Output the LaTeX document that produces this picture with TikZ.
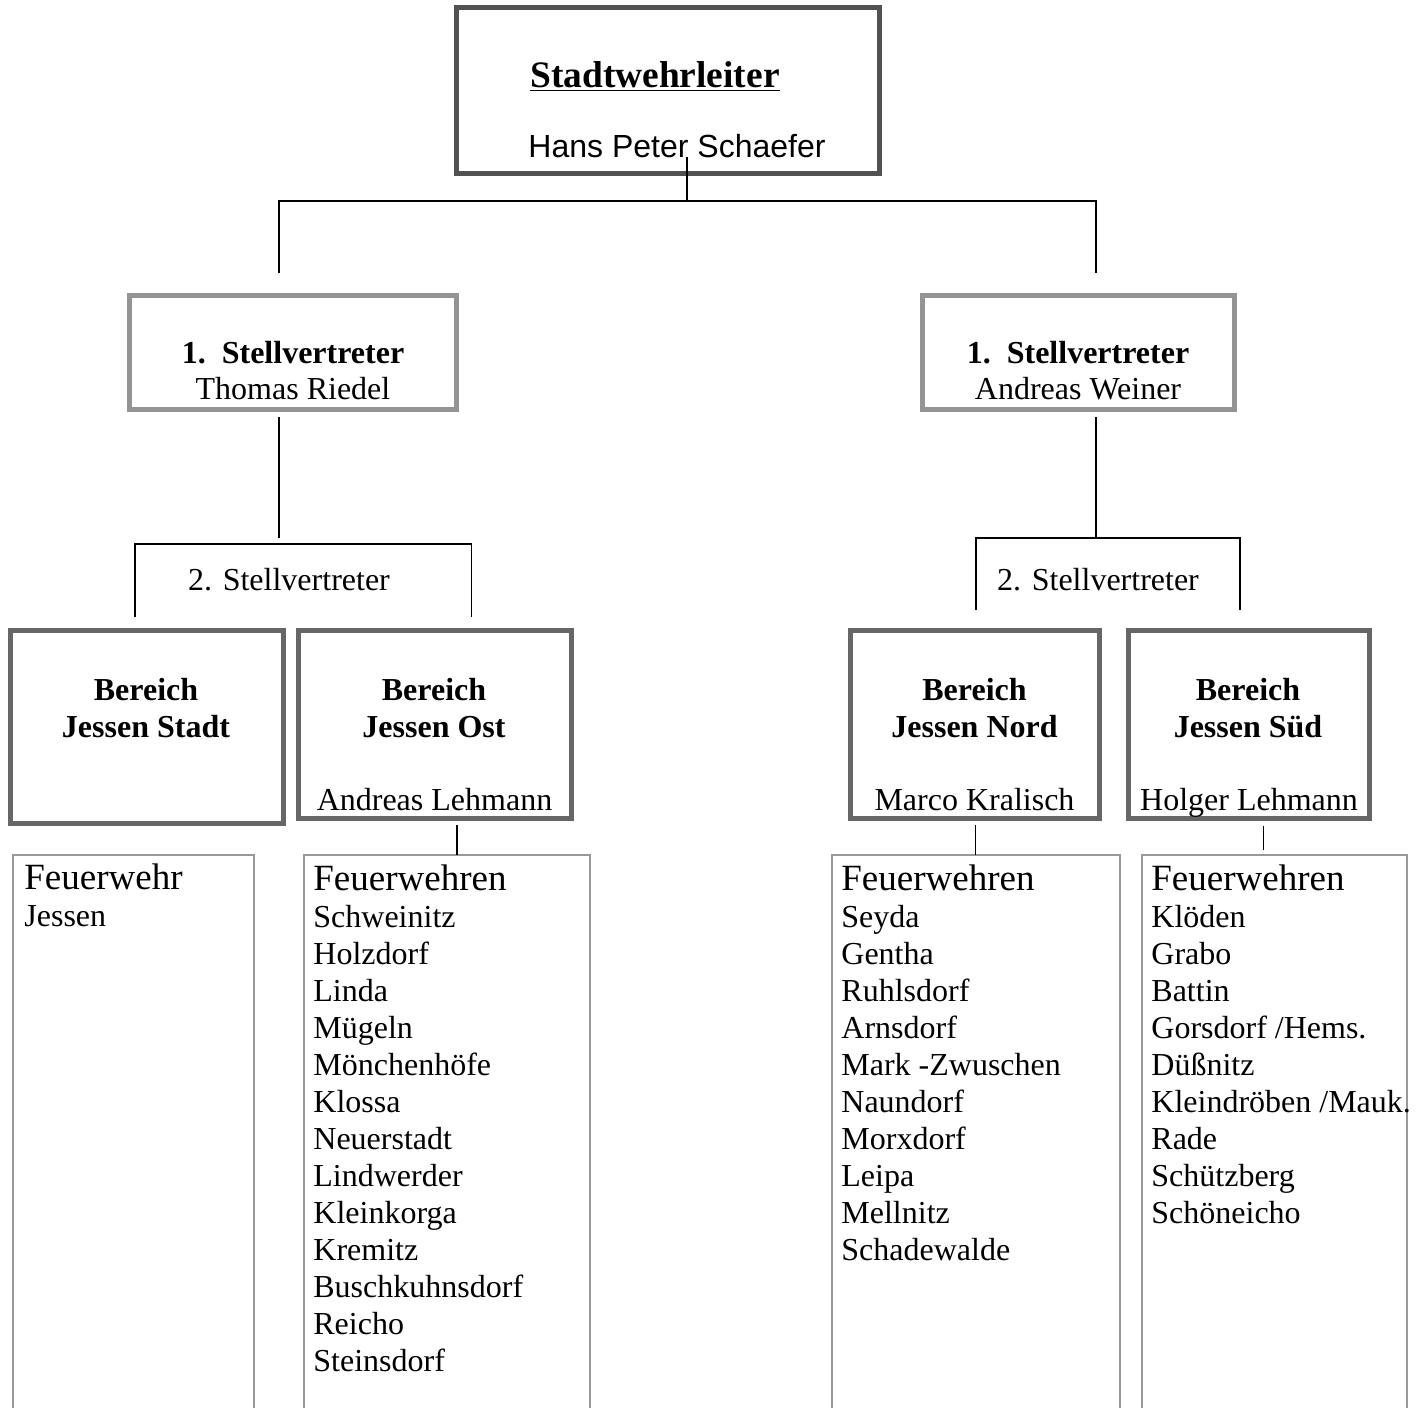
\documentclass[tikz,border=0pt]{standalone}
\usepackage{fontspec}
\setmainfont{Liberation Serif}
\newfontfamily\arialf{Liberation Sans}
\usetikzlibrary{fit}
\definecolor{topgray}{HTML}{525252}
\definecolor{stgray}{HTML}{949494}
\definecolor{begray}{HTML}{666666}
\definecolor{ligray}{HTML}{999999}
\tikzset{
  topbox/.style={draw=topgray, line width=2.5pt, inner sep=0pt},
  stbox/.style={draw=stgray, line width=2.5pt, inner sep=0pt},
  bebox/.style={draw=begray, line width=2.5pt, inner sep=0pt},
  listbox/.style={draw=ligray, line width=0.9pt, inner sep=0pt},
  conn/.style={draw=black, line width=0.9pt},
  txt/.style={inner sep=0pt, anchor=base, font=\fontsize{16}{18.5}\selectfont},
  btxt/.style={txt, font=\fontsize{16}{18.5}\selectfont\bfseries},
  item/.style={inner sep=0pt, anchor=base west, font=\fontsize{16}{18.5}\selectfont},
  head/.style={inner sep=0pt, anchor=base west, font=\fontsize{18.5}{20}\selectfont},
}
\begin{document}
\begin{tikzpicture}[x=0.5pt, y=-0.5pt]
\clip (0,0) rectangle (1419,1408);
\useasboundingbox (0,0) rectangle (1419,1408);
\fill[white] (0,0) rectangle (1419,1408);

% top box
\node[topbox, fit={(456.5,7.5) (879,173.5)}] (top) {};
\node[inner sep=0pt, anchor=base, font=\fontsize{18.7}{20}\selectfont\bfseries] (title) at (655,87) {\underline{Stadtwehrleiter}};
\node[inner sep=0pt, anchor=base, font=\arialf\fontsize{16}{18}\selectfont] (hps) at (677,157) {Hans Peter Schaefer};

% level 1 boxes
\node[stbox, fit={(129.5,295.5) (456,409)}] (st1l) {};
\node[btxt] (st1lt) at (293,363) {1.\ \ Stellvertreter};
\node[txt] (st1ln) at (293,399) {Thomas Riedel};
\node[stbox, fit={(922.5,295.5) (1234.5,409)}] (st1r) {};
\node[btxt] (st1rt) at (1078,363) {1.\ \ Stellvertreter};
\node[txt] (st1rn) at (1078,399) {Andreas Weiner};

% connectors top
\coordinate (c0) at (687,157);
\coordinate (c1) at (687,201);
\coordinate (c1l) at (279,201);
\coordinate (c1r) at (1096,201);
\coordinate (c2l) at (279,273);
\coordinate (c2r) at (1096,273);
\draw[conn] (c0) -- (c1);
\draw[conn] (c2l) -- (c1l) -- (c1r) -- (c2r);

% 2. Stellvertreter brackets
\coordinate (s1l) at (279,417);
\coordinate (s2l) at (279,538);
\draw[conn] (s1l) -- (s2l);
\coordinate (bl1) at (135,617);
\coordinate (bl2) at (135,544);
\coordinate (bl3) at (471.5,544);
\coordinate (bl4) at (471.5,617);
\draw[conn] (bl1) -- (bl2) -- (bl3) -- (bl4);
\node[txt] (st2l) at (289,590) {2. Stellvertreter};

\coordinate (s1r) at (1096,417);
\coordinate (s2r) at (1096,538);
\draw[conn] (s1r) -- (s2r);
\coordinate (br1) at (976,610);
\coordinate (br2) at (976,538);
\coordinate (br3) at (1240,538);
\coordinate (br4) at (1240,610);
\draw[conn] (br1) -- (br2) -- (br3) -- (br4);
\node[txt] (st2r) at (1098,590) {2. Stellvertreter};

% Bereich boxes
\node[bebox, fit={(10.5,630.5) (283.5,823)}] (bstadt) {};
\node[bebox, fit={(298.5,630.5) (571.5,818.5)}] (bost) {};
\node[bebox, fit={(850.5,630.5) (1099.5,818.5)}] (bnord) {};
\node[bebox, fit={(1128.5,630.5) (1369,818.5)}] (bsued) {};

\node[btxt] (bstadt1) at (146,700) {Bereich};
\node[btxt] (bstadt2) at (146,737) {Jessen Stadt};
\node[btxt] (bost1) at (434,700) {Bereich};
\node[btxt] (bost2) at (434,737) {Jessen Ost};
\node[txt] (bost3) at (434.5,810) {Andreas Lehmann};
\node[btxt] (bnord1) at (974.5,700) {Bereich};
\node[btxt] (bnord2) at (974.5,737) {Jessen Nord};
\node[txt] (bnord3) at (974.5,810) {Marco Kralisch};
\node[btxt] (bsued1) at (1248,700) {Bereich};
\node[btxt] (bsued2) at (1248,737) {Jessen Süd};
\node[txt] (bsued3) at (1249,810) {Holger Lehmann};

% list boxes
\node[listbox, fit={(13,855) (254,1430)}] (lstadt) {};
\node[listbox, fit={(304,855) (590,1430)}] (lost) {};
\node[listbox, fit={(832,855) (1120,1430)}] (lnord) {};
\node[listbox, fit={(1142,855) (1407,1430)}] (lsued) {};

% connectors to lists
\coordinate (o1) at (457,825);
\coordinate (o2) at (457,855);
\draw[conn] (o1) -- (o2);
\coordinate (n1) at (975.5,825);
\coordinate (n2) at (975.5,855);
\draw[conn] (n1) -- (n2);
\coordinate (su1) at (1263.5,826);
\coordinate (su2) at (1263.5,850);
\draw[conn] (su1) -- (su2);

% list texts
\node[head] (hstadt) at (24,889) {Feuerwehr};
\node[item] (istadt1) at (24,926) {Jessen};

\node[head] (host) at (313,890) {Feuerwehren};
\foreach \t [count=\i] in {Schweinitz,Holzdorf,Linda,Mügeln,Mönchenhöfe,Klossa,Neuerstadt,Lindwerder,Kleinkorga,Kremitz,Buschkuhnsdorf,Reicho,Steinsdorf}
  \node[item] (iost\i) at (313,{927+37*(\i-1)}) {\t};

\node[head] (hnord) at (841,890) {Feuerwehren};
\foreach \t [count=\i] in {Seyda,Gentha,Ruhlsdorf,Arnsdorf,Mark -Zwuschen,Naundorf,Morxdorf,Leipa,Mellnitz,Schadewalde}
  \node[item] (inord\i) at (841,{927+37*(\i-1)}) {\t};

\node[head] (hsued) at (1151,890) {Feuerwehren};
\foreach \t [count=\i] in {Klöden,Grabo,Battin,Gorsdorf /Hems.,Düßnitz,Kleindröben /Mauk.,Rade,Schützberg,Schöneicho}
  \node[item] (isued\i) at (1151,{927+37*(\i-1)}) {\t};
\end{tikzpicture}
\end{document}
